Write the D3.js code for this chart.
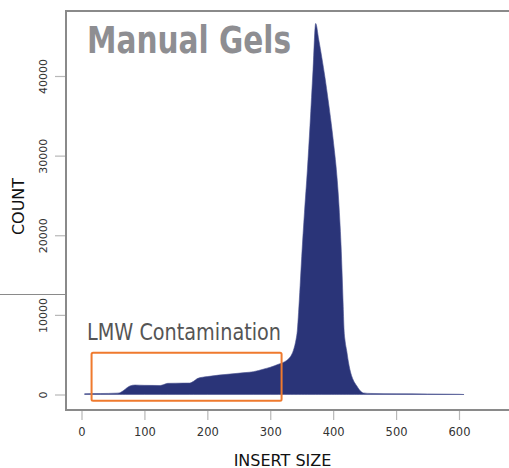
<!DOCTYPE html>
<html>
<head>
<meta charset="utf-8">
<script src="https://cdn.jsdelivr.net/npm/d3@7"></script>
<style>
  html, body { margin: 0; padding: 0; background: #fff; }
  svg { display: block; }
</style>
</head>
<body>
<svg id="chart" width="509" height="468"></svg>
<script>
// ---- data ----
const insertSizes = [5, 30, 55, 60, 65, 70, 77, 85, 100, 125, 131, 137, 150, 172, 178, 185, 200, 236, 260, 273, 290, 300, 313, 323, 328, 332, 336.6, 339, 341, 343, 345, 347.5, 350, 354.4, 359, 363.2, 368, 372.2, 377, 382, 387, 392, 397, 402, 405, 408, 410.5, 412.5, 414.3, 415.8, 417.2, 419, 421.5, 424, 426.7, 430, 434, 437.4, 442, 447.9, 460, 500, 550, 600, 608];
const counts      = [100, 120, 170, 200, 400, 700, 1070, 1190, 1150, 1130, 1250, 1400, 1420, 1440, 1650, 2030, 2250, 2570, 2750, 2860, 3200, 3420, 3800, 4120, 4400, 4750, 5500, 6150, 6900, 8000, 10300, 13700, 17300, 22900, 28200, 33800, 40800, 46600, 44600, 42300, 39800, 37000, 34000, 30600, 28300, 25300, 22000, 18800, 15000, 11500, 8300, 6700, 5500, 4200, 3100, 2200, 1500, 1100, 550, 200, 130, 100, 70, 30, 0];
const xTicks = [0, 100, 200, 300, 400, 500, 600];
const yTicks = [0, 10000, 20000, 30000, 40000];
const titleText = "Manual Gels";
const annotationText = "LMW Contamination";
const xLabel = "INSERT SIZE";
const yLabel = "COUNT";
const boxRangeX = [16, 318];
const boxRangeY = [-780, 5250];

// ---- scales ----
const svg = d3.select("#chart");
const x = d3.scaleLinear().domain([0, 600]).range([81.5, 459]);
const y = d3.scaleLinear().domain([0, 40000]).range([394.5, 76]);

const frameLeft = 66, frameTop = 11, frameBottom = 410, frameRight = 509;
const axisColor = "#8a8a8a";

// stray line at left
svg.append("line").attr("x1", 0).attr("x2", frameLeft).attr("y1", 294.5).attr("y2", 294.5)
  .attr("stroke", "#8a8a8a").attr("stroke-width", 1);

// area
const data = insertSizes.map((s, i) => ({ s, c: counts[i] }));
const area = d3.area().x(d => x(d.s)).y0(y(0)).y1(d => y(d.c)).curve(d3.curveMonotoneX);
svg.append("path").datum(data).attr("d", area)
  .attr("fill", "#2a3478").attr("stroke", "#4a5290").attr("stroke-width", 0.6);

// x axis ticks
const xAxis = d3.axisBottom(x).tickValues(xTicks).tickSize(10).tickPadding(8).tickFormat(d3.format("d"));
const gx = svg.append("g").attr("transform", `translate(0,${frameBottom})`).call(xAxis);
gx.select(".domain").remove();
gx.selectAll(".tick line").attr("stroke", "#b8b8b8").attr("stroke-width", 1.2);
gx.selectAll(".tick text").attr("font-family", "DejaVu Sans, Verdana, sans-serif").attr("font-size", 11.5).attr("fill", "#333");

// y axis ticks
const yAxis = d3.axisLeft(y).tickValues(yTicks).tickSize(11).tickPadding(0).tickFormat(d3.format("d"));
const gy = svg.append("g").attr("transform", `translate(${frameLeft},0)`).call(yAxis);
gy.select(".domain").remove();
gy.selectAll(".tick line").attr("stroke", "#b8b8b8").attr("stroke-width", 1.2);
gy.selectAll(".tick text")
  .attr("font-family", "DejaVu Sans, Verdana, sans-serif").attr("font-size", 11).attr("fill", "#333")
  .attr("x", null).attr("dy", null)
  .attr("text-anchor", "middle")
  .attr("transform", "translate(-19,0) rotate(-90)");

// frame
svg.append("path")
  .attr("d", `M${frameRight},${frameTop} H${frameLeft} V${frameBottom} H${frameRight}`)
  .attr("fill", "none").attr("stroke", axisColor).attr("stroke-width", 2);

// orange box
svg.append("rect")
  .attr("x", x(boxRangeX[0])).attr("y", y(boxRangeY[1]))
  .attr("width", x(boxRangeX[1]) - x(boxRangeX[0]))
  .attr("height", y(boxRangeY[0]) - y(boxRangeY[1]))
  .attr("rx", 1.5)
  .attr("fill", "none").attr("stroke", "#ef7a2e").attr("stroke-width", 2);

// title
svg.append("text").attr("x", 87).attr("y", 52.5)
  .attr("font-family", "DejaVu Sans, Verdana, sans-serif").attr("font-weight", "bold")
  .attr("font-size", 37).attr("fill", "#8e8e92")
  .attr("textLength", 204).attr("lengthAdjust", "spacingAndGlyphs")
  .text(titleText);

// annotation
svg.append("text").attr("x", 87).attr("y", 339.5)
  .attr("font-family", "DejaVu Sans, Verdana, sans-serif")
  .attr("font-size", 22.5).attr("fill", "#555")
  .attr("textLength", 194).attr("lengthAdjust", "spacingAndGlyphs")
  .text(annotationText);

// axis labels
svg.append("text").attr("x", 282.5).attr("y", 465.5).attr("text-anchor", "middle")
  .attr("font-family", "DejaVu Sans, Verdana, sans-serif").attr("font-size", 16).attr("fill", "#111")
  .text(xLabel);
svg.append("text").attr("transform", "translate(24,206.5) rotate(-90)").attr("text-anchor", "middle")
  .attr("font-family", "DejaVu Sans, Verdana, sans-serif").attr("font-size", 16).attr("fill", "#111")
  .text(yLabel);
</script>
</body>
</html>
